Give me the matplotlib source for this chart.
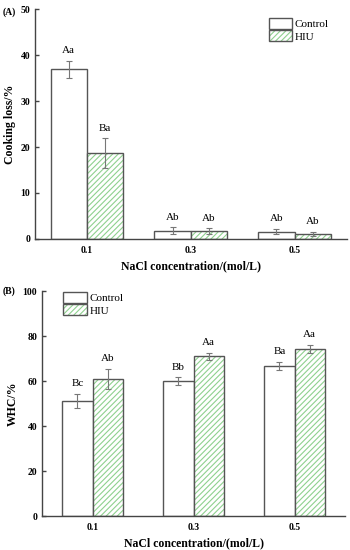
import numpy as np
import matplotlib
matplotlib.use('Agg')
import matplotlib.pyplot as plt
from matplotlib.patches import Patch
from matplotlib.legend_handler import HandlerTuple

plt.rcParams['font.family'] = ['Liberation Serif', 'DejaVu Serif']
plt.rcParams['hatch.linewidth'] = 0.8

conc = ['0.1', '0.3', '0.5']

cook_ctrl = [36.9, 1.8, 1.6]
cook_ctrl_err = [1.8, 0.7, 0.6]
cook_hiu = [18.7, 1.7, 1.1]
cook_hiu_err = [3.2, 0.6, 0.4]
cook_ctrl_lbl = ['Aa', 'Ab', 'Ab']
cook_hiu_lbl = ['Ba', 'Ab', 'Ab']

whc_ctrl = [51.1, 59.9, 66.8]
whc_ctrl_err = [3.3, 1.8, 1.7]
whc_hiu = [61.0, 71.0, 74.2]
whc_hiu_err = [4.4, 1.6, 1.8]
whc_ctrl_lbl = ['Bc', 'Bb', 'Ba']
whc_hiu_lbl = ['Ab', 'Aa', 'Aa']

EDGE = '#555555'
GREEN = '#8fd18f'


def panel(ax, ctrl, ctrl_err, hiu, hiu_err, ctrl_lbl, hiu_lbl, width, ymax, step, ylabel, bbox):
    x = np.arange(len(conc))
    ekw = dict(ecolor='#777777', elinewidth=0.8, capsize=2, capthick=0.8)
    ax.bar(x - width / 2, ctrl, width, yerr=ctrl_err, color='white', edgecolor=EDGE,
           linewidth=1.0, error_kw=ekw)
    ax.bar(x + width / 2, hiu, width, yerr=hiu_err, color='white', edgecolor=GREEN,
           linewidth=0, hatch='//////', error_kw=ekw)
    ax.bar(x + width / 2, hiu, width, color='none', edgecolor=EDGE, linewidth=1.0)
    off = ymax * 0.025
    for i in range(len(conc)):
        ax.text(x[i] - width / 2, ctrl[i] + ctrl_err[i] + off, ctrl_lbl[i],
                ha='center', va='bottom', fontsize=8)
        ax.text(x[i] + width / 2, hiu[i] + hiu_err[i] + off, hiu_lbl[i],
                ha='center', va='bottom', fontsize=8)
    ax.set_xlim(-0.5, 2.5)
    ax.set_ylim(0, ymax)
    ax.set_yticks(np.arange(0, ymax + 1, step))
    ax.set_xticks(x)
    ax.set_xticklabels(conc)
    for s in ['top', 'right']:
        ax.spines[s].set_visible(False)
    for s in ['left', 'bottom']:
        ax.spines[s].set_color('#444444')
        ax.spines[s].set_linewidth(1.0)
    ax.tick_params(axis='y', direction='in', length=3, width=1.0, color='#444444', labelsize=7)
    ax.tick_params(axis='x', length=0, labelsize=7, pad=5)
    for t in ax.get_xticklabels() + ax.get_yticklabels():
        t.set_fontweight('bold')
    ax.set_ylabel(ylabel, fontsize=8.5, fontweight='bold', labelpad=3)
    ax.set_xlabel('NaCl concentration/(mol/L)', fontsize=8.5, fontweight='bold', labelpad=4)

    # legend: outlined boxes, HIU with green hatch
    h_ctrl = Patch(facecolor='white', edgecolor=EDGE, linewidth=1.0)
    h_hatch = Patch(facecolor='white', edgecolor=GREEN, linewidth=0, hatch='//////')
    h_out = Patch(facecolor='none', edgecolor=EDGE, linewidth=1.0)
    ax.legend(handles=[h_ctrl, (h_hatch, h_out)], labels=['Control', 'HIU'],
              handler_map={tuple: HandlerTuple(ndivide=1)},
              loc='upper left', bbox_to_anchor=bbox, frameon=False, fontsize=8,
              handlelength=2.1, handleheight=1.1, handletextpad=0.25, labelspacing=0.1,
              borderaxespad=0, borderpad=0)


fig = plt.figure(figsize=(3.5, 5.5), dpi=100)
axA = fig.add_axes([0.10, 0.5655, 0.89, 0.418])
axB = fig.add_axes([0.12, 0.0618, 0.866, 0.409])

panel(axA, cook_ctrl, cook_ctrl_err, cook_hiu, cook_hiu_err, cook_ctrl_lbl, cook_hiu_lbl,
      0.35, 50, 10, 'Cooking loss/%', (0.75, 0.96))
panel(axB, whc_ctrl, whc_ctrl_err, whc_hiu, whc_hiu_err, whc_ctrl_lbl, whc_hiu_lbl,
      0.30, 100, 20, 'WHC/%', (0.07, 0.995))

fig.text(0.008, 0.978, '(A)', fontsize=7, fontweight='bold', va='center')
fig.text(0.008, 0.470, '(B)', fontsize=7, fontweight='bold', va='center')

fig.savefig('out.png', dpi=100)
